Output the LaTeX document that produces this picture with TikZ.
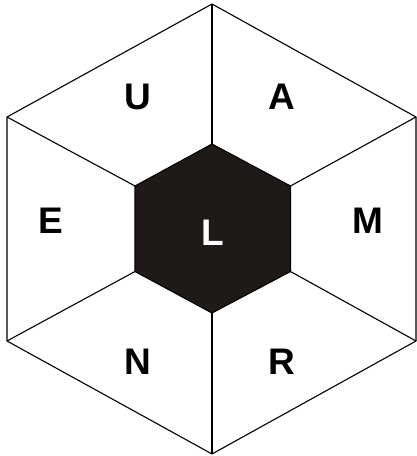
\documentclass[tikz,border=0pt]{standalone}
\usepackage{fontspec}
\setmainfont{Liberation Sans}
\definecolor{hexdark}{HTML}{1F1A17}

\begin{document}
\begin{tikzpicture}[x=1pt,y=1pt,
  edge/.style={draw=black,line width=1.1pt,line join=miter},
  letter/.style={inner sep=0pt,font=\fontsize{37}{40}\selectfont\bfseries},
  core/.style={edge,fill=hexdark}
]
  \useasboundingbox (0,0) rectangle (417,456);
  % outer hexagon corners
  \coordinate (ot)  at (212,452);
  \coordinate (our) at (416,339);
  \coordinate (olr) at (416,115);
  \coordinate (ob)  at (212,2);
  \coordinate (oll) at (7,115);
  \coordinate (oul) at (7,339);
  % inner hexagon corners
  \coordinate (it)  at (212,312);
  \coordinate (iur) at (290.5,270);
  \coordinate (ilr) at (290.5,184.5);
  \coordinate (ib)  at (212,143);
  \coordinate (ill) at (135,184.5);
  \coordinate (iul) at (135,270);

  \draw[edge] (ot) -- (our) -- (olr) -- (ob) -- (oll) -- (oul) -- cycle;
  \draw[edge] (it) -- (ot);
  \draw[edge] (iur) -- (our);
  \draw[edge] (ilr) -- (olr);
  \draw[edge] (ib) -- (ob);
  \draw[edge] (ill) -- (oll);
  \draw[edge] (iul) -- (oul);
  \draw[core] (it) -- (iur) -- (ilr) -- (ib) -- (ill) -- (iul) -- cycle;

  \node[letter] (u) at (138,359) {U};
  \node[letter] (a) at (282,359) {A};
  \node[letter] (e) at (51,235)  {E};
  \node[letter] (m) at (368,235) {M};
  \node[letter] (n) at (138,94)  {N};
  \node[letter] (r) at (282,94)  {R};
  \node[letter,text=white] (l) at (212.5,223) {L};
\end{tikzpicture}
\end{document}
